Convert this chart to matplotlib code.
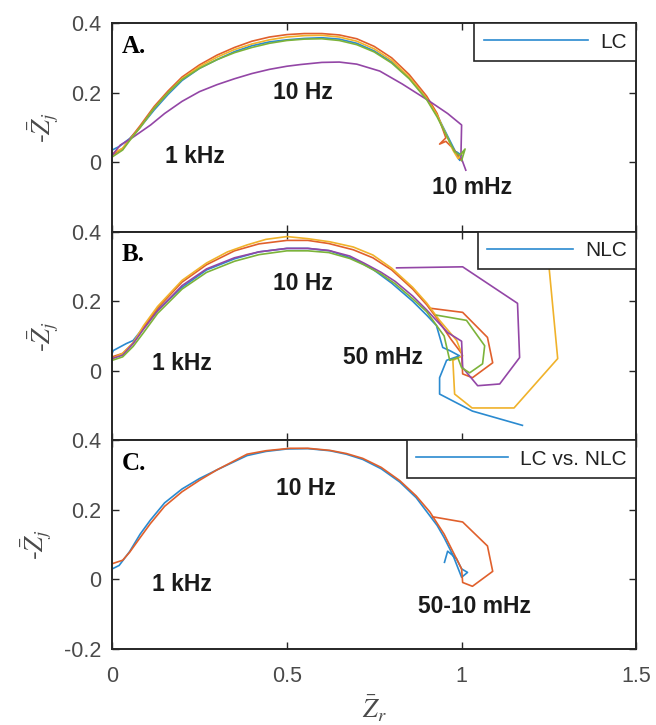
import matplotlib
matplotlib.use('Agg')
import matplotlib.pyplot as plt

plt.rcParams['font.family'] = ['Liberation Sans', 'DejaVu Sans']
plt.rcParams['mathtext.fontset'] = 'stix'

# MATLAB-like default line colours
blue = '#2a8ad0'
orange = '#e0602c'
yellow = '#f0b22a'
purple = '#9346a6'
green = '#7cb33a'

# ---- Panel A: LC ----
a_blue_x = [0.0, 0.02, 0.05, 0.08, 0.12, 0.16, 0.2, 0.25, 0.3, 0.35, 0.4, 0.45, 0.5, 0.55, 0.6, 0.65, 0.7, 0.75, 0.8, 0.85, 0.9, 0.93, 0.96, 0.98, 0.995, 0.985, 1.0]
a_blue_y = [0.035, 0.045, 0.068, 0.1, 0.15, 0.195, 0.235, 0.27, 0.295, 0.318, 0.335, 0.346, 0.352, 0.356, 0.358, 0.354, 0.342, 0.32, 0.288, 0.243, 0.183, 0.135, 0.075, 0.035, 0.005, 0.03, 0.02]
a_orange_x = [0.0, 0.03, 0.05, 0.08, 0.12, 0.16, 0.2, 0.25, 0.3, 0.35, 0.4, 0.45, 0.5, 0.55, 0.6, 0.65, 0.7, 0.75, 0.8, 0.85, 0.9, 0.93, 0.955, 0.937, 0.955, 0.975, 0.99, 1.0]
a_orange_y = [0.02, 0.04, 0.066, 0.105, 0.16, 0.205, 0.245, 0.28, 0.308, 0.33, 0.348, 0.36, 0.367, 0.37, 0.37, 0.366, 0.355, 0.333, 0.3, 0.252, 0.19, 0.14, 0.07, 0.052, 0.06, 0.04, 0.02, 0.005]
a_yellow_x = [0.0, 0.03, 0.05, 0.08, 0.12, 0.16, 0.2, 0.25, 0.3, 0.35, 0.4, 0.45, 0.5, 0.55, 0.6, 0.65, 0.7, 0.75, 0.8, 0.85, 0.9, 0.93, 0.96, 0.975, 0.99, 1.005]
a_yellow_y = [0.025, 0.04, 0.064, 0.1, 0.155, 0.2, 0.24, 0.275, 0.302, 0.324, 0.34, 0.352, 0.36, 0.364, 0.365, 0.36, 0.348, 0.326, 0.293, 0.245, 0.183, 0.135, 0.07, 0.035, 0.01, 0.03]
a_purple_x = [0.0, 0.023, 0.06, 0.11, 0.15, 0.2, 0.25, 0.3, 0.35, 0.4, 0.45, 0.5, 0.54, 0.6, 0.65, 0.7, 0.766, 0.83, 0.91, 0.96, 1.0, 0.998, 1.012]
a_purple_y = [0.02, 0.049, 0.072, 0.107, 0.14, 0.175, 0.203, 0.223, 0.24, 0.255, 0.267, 0.276, 0.281, 0.287, 0.288, 0.282, 0.262, 0.225, 0.174, 0.14, 0.107, 0.015, -0.023]
a_green_x = [0.0, 0.03, 0.05, 0.08, 0.12, 0.16, 0.2, 0.25, 0.3, 0.35, 0.4, 0.45, 0.5, 0.55, 0.6, 0.65, 0.7, 0.75, 0.8, 0.85, 0.9, 0.93, 0.96, 0.98, 0.995, 1.01, 1.0]
a_green_y = [0.015, 0.035, 0.062, 0.1, 0.155, 0.2, 0.238, 0.27, 0.295, 0.315, 0.33, 0.342, 0.35, 0.354, 0.355, 0.35, 0.338, 0.317, 0.285, 0.24, 0.18, 0.13, 0.07, 0.03, 0.02, 0.038, 0.005]

# ---- Panel B: NLC ----
b_blue_x = [0.0, 0.003, 0.04, 0.06, 0.09, 0.13, 0.2, 0.27, 0.35, 0.42, 0.5, 0.56, 0.623, 0.69, 0.746, 0.8, 0.86, 0.9, 0.928, 0.946, 0.966, 0.994, 0.957, 0.937, 0.937, 1.031, 1.174]
b_blue_y = [0.05, 0.058, 0.078, 0.087, 0.125, 0.175, 0.24, 0.29, 0.322, 0.342, 0.352, 0.352, 0.345, 0.322, 0.292, 0.252, 0.2, 0.16, 0.13, 0.067, 0.058, 0.043, 0.03, -0.02, -0.067, -0.116, -0.157]
b_orange_x = [0.0, 0.03, 0.06, 0.09, 0.13, 0.2, 0.27, 0.35, 0.42, 0.5, 0.56, 0.62, 0.69, 0.746, 0.8, 0.86, 0.9, 0.93, 0.97, 1.0, 1.003, 1.031, 1.089, 1.074, 1.003, 0.909]
b_orange_y = [0.04, 0.05, 0.08, 0.125, 0.18, 0.255, 0.305, 0.345, 0.365, 0.375, 0.375, 0.366, 0.348, 0.325, 0.29, 0.235, 0.19, 0.15, 0.09, 0.05, -0.009, -0.02, 0.023, 0.096, 0.168, 0.18]
b_yellow_x = [0.0, 0.03, 0.06, 0.09, 0.13, 0.2, 0.27, 0.33, 0.386, 0.44, 0.5, 0.56, 0.623, 0.69, 0.746, 0.8, 0.86, 0.9, 0.937, 0.986, 1.003, 0.975, 0.98, 1.03, 1.15, 1.275, 1.251, 1.25]
b_yellow_y = [0.035, 0.05, 0.08, 0.13, 0.185, 0.26, 0.31, 0.342, 0.362, 0.378, 0.386, 0.38, 0.371, 0.356, 0.333, 0.295, 0.24, 0.195, 0.145, 0.087, 0.043, 0.03, -0.067, -0.107, -0.107, 0.035, 0.29, 0.36]
b_purple_x = [0.0, 0.03, 0.06, 0.09, 0.13, 0.2, 0.27, 0.35, 0.42, 0.5, 0.56, 0.62, 0.68, 0.72, 0.77, 0.81, 0.86, 0.9, 0.96, 1.0, 1.003, 1.046, 1.109, 1.166, 1.16, 1.003, 0.814]
b_purple_y = [0.035, 0.045, 0.078, 0.12, 0.172, 0.245, 0.293, 0.325, 0.342, 0.352, 0.352, 0.346, 0.33, 0.31, 0.283, 0.257, 0.215, 0.175, 0.11, 0.085, 0.009, -0.043, -0.038, 0.038, 0.194, 0.299, 0.296]
b_green_x = [0.0, 0.03, 0.06, 0.09, 0.13, 0.2, 0.27, 0.35, 0.42, 0.5, 0.56, 0.62, 0.68, 0.72, 0.77, 0.81, 0.86, 0.9, 0.95, 0.966, 0.989, 1.0, 1.023, 1.06, 1.066, 1.014, 0.928]
b_green_y = [0.03, 0.04, 0.07, 0.11, 0.165, 0.235, 0.283, 0.315, 0.334, 0.345, 0.345, 0.34, 0.323, 0.305, 0.278, 0.25, 0.207, 0.17, 0.1, 0.03, 0.038, 0.009, -0.006, 0.02, 0.072, 0.145, 0.16]

# ---- Panel C: LC vs. NLC ----
c_blue_x = [0.0, 0.02, 0.05, 0.08, 0.109, 0.15, 0.2, 0.25, 0.3, 0.386, 0.44, 0.5, 0.56, 0.623, 0.67, 0.717, 0.77, 0.823, 0.87, 0.9, 0.93, 0.95, 0.975, 1.0, 1.017, 1.0, 0.985, 0.96, 0.951]
c_blue_y = [0.03, 0.04, 0.08, 0.13, 0.17, 0.22, 0.26, 0.29, 0.315, 0.356, 0.368, 0.375, 0.376, 0.37, 0.36, 0.345, 0.318, 0.28, 0.235, 0.195, 0.155, 0.12, 0.07, 0.006, 0.02, 0.03, 0.06, 0.081, 0.049]
c_orange_x = [0.0, 0.03, 0.05, 0.08, 0.109, 0.15, 0.2, 0.25, 0.3, 0.386, 0.44, 0.509, 0.56, 0.623, 0.67, 0.717, 0.77, 0.823, 0.87, 0.909, 0.95, 0.98, 1.0, 1.003, 1.031, 1.089, 1.074, 1.003, 0.917]
c_orange_y = [0.045, 0.055, 0.078, 0.12, 0.16, 0.21, 0.252, 0.285, 0.315, 0.36, 0.37, 0.377, 0.377, 0.371, 0.362, 0.348, 0.322, 0.284, 0.24, 0.194, 0.13, 0.07, 0.03, -0.009, -0.02, 0.023, 0.096, 0.165, 0.18]

panels = [
    ('A.', 'LC', 5.0,
     [(a_blue_x, a_blue_y, blue), (a_orange_x, a_orange_y, orange), (a_yellow_x, a_yellow_y, yellow),
      (a_purple_x, a_purple_y, purple), (a_green_x, a_green_y, green)],
     [('1 kHz', 0.15, 0.015), ('10 Hz', 0.46, 0.2), ('10 mHz', 0.915, -0.072)]),
    ('B.', 'NLC', 4.1,
     [(b_blue_x, b_blue_y, blue), (b_orange_x, b_orange_y, orange), (b_yellow_x, b_yellow_y, yellow),
      (b_purple_x, b_purple_y, purple), (b_green_x, b_green_y, green)],
     [('1 kHz', 0.115, 0.02), ('10 Hz', 0.46, 0.25), ('50 mHz', 0.66, 0.038)]),
    ('C.', 'LC vs. NLC', 4.4,
     [(c_blue_x, c_blue_y, blue), (c_orange_x, c_orange_y, orange)],
     [('1 kHz', 0.115, -0.015), ('10 Hz', 0.47, 0.26), ('50-10 mHz', 0.875, -0.078)]),
]

axcol = '#262626'
tickcol = '#4a4a4a'

fig = plt.figure(figsize=(6.56, 7.25), dpi=100)
left, width = 0.171, 0.799
h = 0.2877
bottoms = [0.105 + 2 * h, 0.105 + h, 0.105]

for i, (tag, name, hlen, lines, notes) in enumerate(panels):
    ax = fig.add_axes([left, bottoms[i], width, h])
    for j, (x, y, c) in enumerate(lines):
        ax.plot(x, y, color=c, lw=1.2, label=name if j == 0 else '_nolegend_')
    ax.set_xlim(0, 1.5)
    ax.set_ylim(-0.2, 0.4)
    ax.set_xticks([0, 0.5, 1, 1.5])
    if i == 2:
        ax.set_yticks([-0.2, 0, 0.2, 0.4])
        ax.set_xticklabels(['0', '0.5', '1', '1.5'])
        ax.set_xlabel(r'$\bar{Z}_r$', fontsize=19, color=tickcol, labelpad=5)
    else:
        ax.set_yticks([0, 0.2, 0.4])
        ax.set_xticklabels([])
    ax.set_yticklabels([f'{t:g}' for t in ax.get_yticks()])
    ax.tick_params(direction='in', top=True, right=True, length=5, width=1,
                   colors=axcol, labelcolor=tickcol, labelsize=15.5)
    ax.tick_params(axis='x', pad=12)
    ax.tick_params(axis='y', pad=8)
    for s in ax.spines.values():
        s.set_linewidth(1.4)
        s.set_color(axcol)
    ax.set_ylabel(r'-$\bar{Z}_j$', fontsize=19, color=tickcol, labelpad=8)
    ax.text(0.018, 0.89, tag, transform=ax.transAxes, fontsize=18, fontweight='bold',
            family='Liberation Serif', va='center', ha='left', color='black')
    for txt, tx, ty in notes:
        ax.text(tx, ty, txt, fontsize=16.5, fontweight='bold', color='#1a1a1a',
                ha='left', va='center')
    leg = ax.legend(loc='upper right', borderaxespad=0, fontsize=15, handlelength=hlen,
                    handletextpad=0.6, borderpad=0.45, fancybox=False, framealpha=1)
    leg.get_frame().set_edgecolor(axcol)
    leg.get_frame().set_linewidth(1.2)
    for t in leg.get_texts():
        t.set_color('#222222')

fig.savefig('out.png', dpi=100)
